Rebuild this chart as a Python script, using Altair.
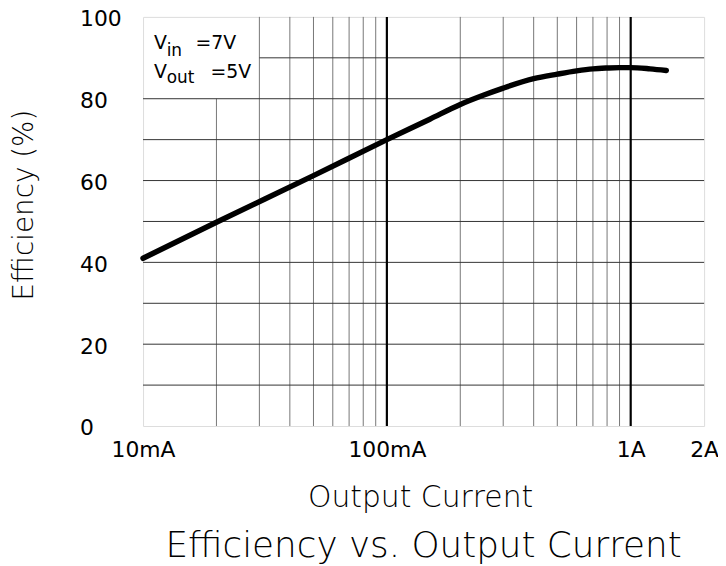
import altair as alt
import pandas as pd

# ---- data ----
current_a = [0.01, 0.02, 0.05, 0.1, 0.15, 0.2, 0.25, 0.3, 0.4, 0.5, 0.6, 0.7, 0.8, 0.9, 1.0, 1.2, 1.4]
efficiency = [41.0, 49.8, 61.2, 70.0, 75.0, 78.6, 80.9, 82.6, 84.9, 86.0, 86.8, 87.3, 87.5, 87.6, 87.6, 87.3, 86.9]

x_tick_values = [0.01, 0.1, 1, 2]
x_tick_labels = ["10mA", "100mA", "1A", "2A"]
y_tick_values = [0, 20, 40, 60, 80, 100]

minor_x_grid = [0.02, 0.03, 0.04, 0.05, 0.06, 0.07, 0.08, 0.09,
                0.2, 0.3, 0.4, 0.5, 0.6, 0.7, 0.8, 0.9]
major_x_grid = [0.1, 1.0]
y_grid = [10, 20, 30, 40, 50, 60, 70, 80, 90]

# note box occupies 10mA..30mA, 80..100 %
box_x_max = 0.03
box_y_min = 80

note_text = ["V", "in", "=7V", "V", "out", "=5V"]
note_x = [0.0111, 0.0125, 0.01642, 0.0111, 0.0125, 0.0189]
note_y = [92.2, 90.4, 92.2, 84.95, 83.9, 84.95]
note_size = [19, 17, 19, 19, 17, 19]

FONT = "DejaVu Sans"
THIN = 200
W, H = 565, 412

curve = pd.DataFrame({"I": current_a, "eff": efficiency})
vgrid = pd.DataFrame({"x": minor_x_grid,
                      "y0": [0] * len(minor_x_grid),
                      "y1": [box_y_min if v < box_x_max else 100 for v in minor_x_grid]})
hgrid = pd.DataFrame({"y": y_grid,
                      "x0": [box_x_max if v > box_y_min else 0.01 for v in y_grid],
                      "x1": [2] * len(y_grid)})
mgrid = pd.DataFrame({"x": major_x_grid, "y0": [0] * 2, "y1": [100] * 2})
notes = pd.DataFrame({"t": note_text, "x": note_x, "y": note_y, "fs": note_size})

label_expr = " : ".join(
    f"datum.value < {v * 1.5} ? '{lab}'" for v, lab in zip(x_tick_values[:-1], x_tick_labels[:-1])
) + f" : '{x_tick_labels[-1]}'"

xscale = alt.Scale(type="log", domain=[0.01, 2], nice=False)
yscale = alt.Scale(domain=[0, 100], nice=False)

x_axis = alt.Axis(values=x_tick_values, labelExpr=label_expr, grid=False, ticks=False, domain=False,
                  labelFont=FONT, labelFontSize=22, labelFontWeight="normal", labelColor="black",
                  labelPadding=14, labelFlush=False, labelOverlap=False,
                  title="Output Current", titleFont=FONT, titleFontSize=30, titleFontWeight=THIN,
                  titleColor="black", titleX=279, titleY=81, titleBaseline="alphabetic",
                  titleAnchor="start", titleAlign="center")
y_axis = alt.Axis(values=y_tick_values, grid=False, ticks=False, domain=False,
                  labelFont=FONT, labelFontSize=22, labelFontWeight="normal", labelColor="black",
                  labelPadding=64, labelAlign="left", labelBaseline="middle", labelOffset=2,
                  title="Efficiency (%)", titleFont=FONT, titleFontSize=28, titleFontWeight=THIN,
                  titleColor="black", titleX=-119, titleY=189, titleAngle=-90,
                  titleBaseline="middle", titleAlign="center")

vg = alt.Chart(vgrid).mark_rule(color="#777777", strokeWidth=1).encode(
    x=alt.X("x:Q", scale=xscale, axis=x_axis),
    y=alt.Y("y0:Q", scale=yscale, axis=y_axis),
    y2="y1:Q",
)
hg = alt.Chart(hgrid).mark_rule(color="#333333", strokeWidth=1).encode(
    x="x0:Q", x2="x1:Q", y="y:Q"
)
mg = alt.Chart(mgrid).mark_rule(color="black", strokeWidth=2.2).encode(
    x="x:Q", y="y0:Q", y2="y1:Q"
)
line = alt.Chart(curve).mark_line(color="black", strokeWidth=5.5, strokeCap="round",
                                  interpolate="monotone").encode(
    x="I:Q", y="eff:Q"
)
txt = alt.Chart(notes).mark_text(align="left", baseline="alphabetic", font=FONT, fontWeight="normal",
                                 color="black").encode(
    x="x:Q", y="y:Q", text="t:N", size=alt.Size("fs:Q", scale=None, legend=None)
)

chart = alt.layer(vg, hg, mg, line, txt).properties(
    width=W, height=H,
    autosize=alt.AutoSizeParams(type="none"),
    padding={"left": 136, "top": 7, "right": 14, "bottom": 139},
    title=alt.TitleParams(text="Efficiency vs. Output Current", orient="bottom", anchor="middle",
                          font=FONT, fontSize=36, fontWeight=THIN, color="black", offset=17),
).configure_view(stroke="black", strokeWidth=2).configure(background="white")

chart.save("out.html", embed_options={"renderer": "svg", "actions": False})
